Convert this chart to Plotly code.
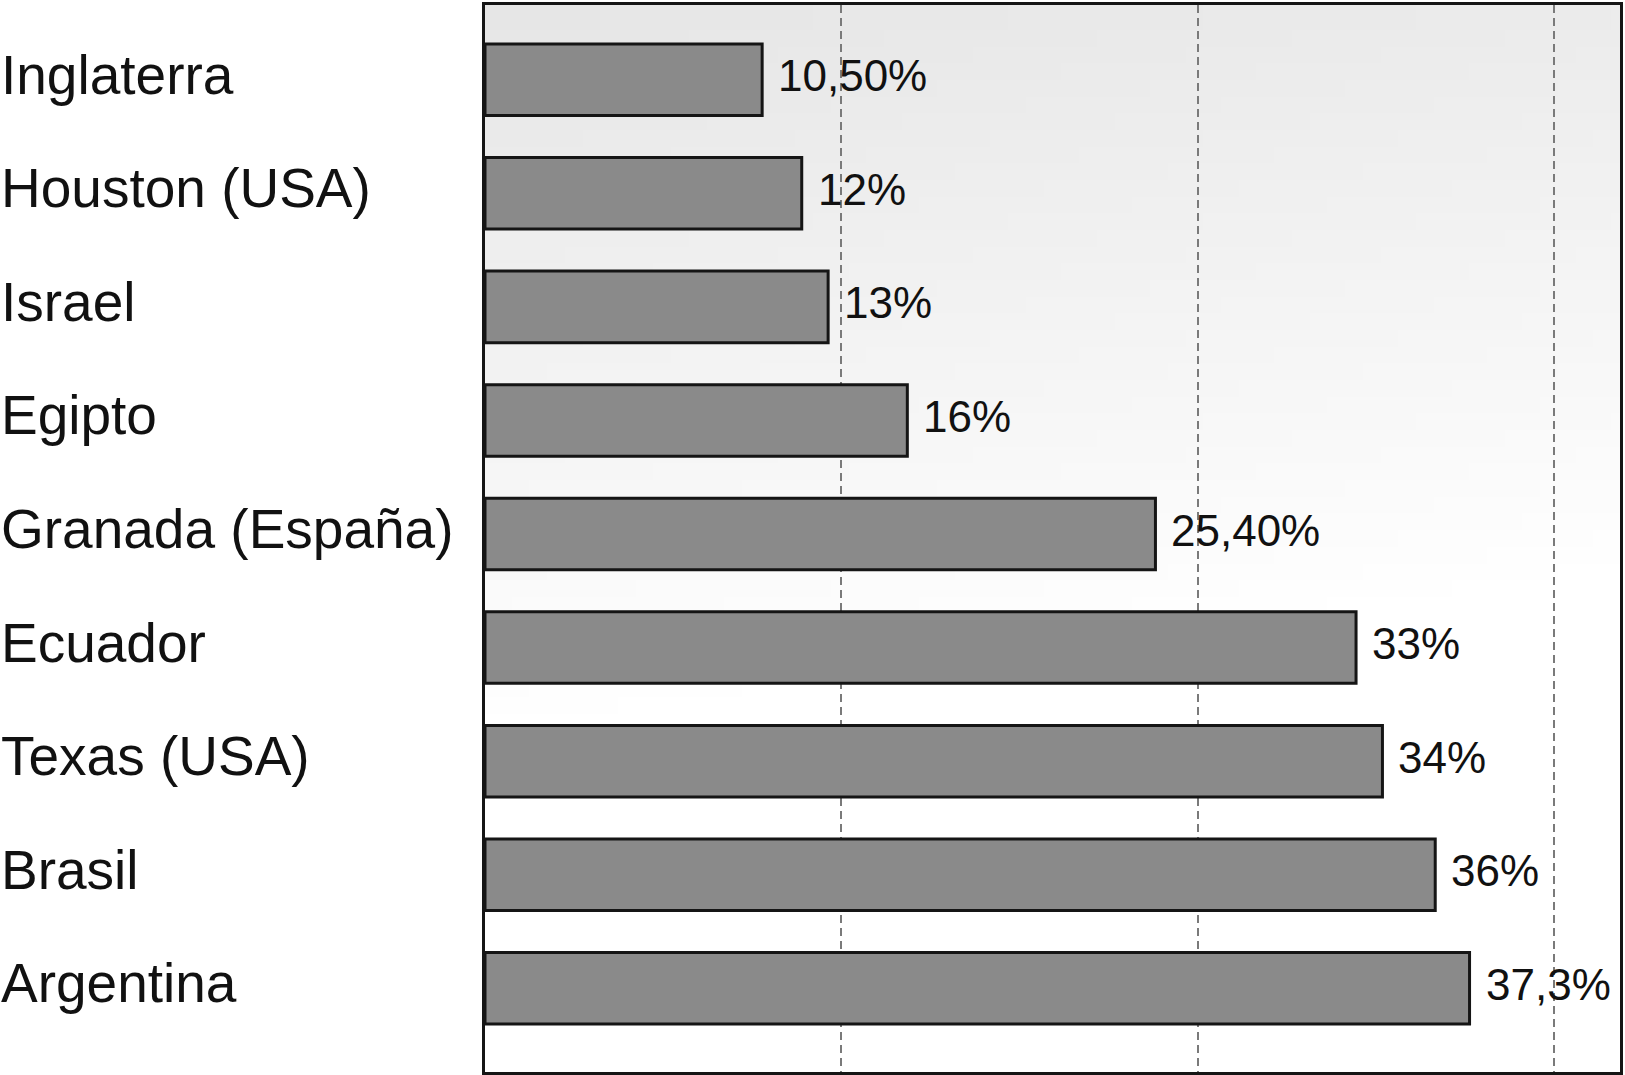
import base64
import struct
import zlib

import plotly.graph_objects as go

# ---- data ----
categories = ["Inglaterra", "Houston (USA)", "Israel", "Egipto", "Granada (España)",
              "Ecuador", "Texas (USA)", "Brasil", "Argentina"]
values = [10.5, 12, 13, 16, 25.4, 33, 34, 36, 37.3]
value_labels = ["10,50%", "12%", "13%", "16%", "25,40%", "33%", "34%", "36%", "37,3%"]


# ---- background gradient image (styling only) ----
def gradient_png(w=64, h=64):
    rows = []
    for j in range(h):
        yf = j / (h - 1)
        row = bytearray([0])
        for i in range(w):
            xf = i / (w - 1)
            t = min(1.0, (yf + 0.15 * xf) / 0.68)
            v = int(round(230 + 25 * t))
            row += bytes([v, v, v])
        rows.append(bytes(row))
    raw = b"".join(rows)

    def chunk(tag, data):
        c = struct.pack(">I", len(data)) + tag + data
        return c + struct.pack(">I", zlib.crc32(tag + data) & 0xFFFFFFFF)

    png = b"\x89PNG\r\n\x1a\n"
    png += chunk(b"IHDR", struct.pack(">IIBBBBB", w, h, 8, 2, 0, 0, 0))
    png += chunk(b"IDAT", zlib.compress(raw, 9))
    png += chunk(b"IEND", b"")
    return "data:image/png;base64," + base64.b64encode(png).decode()


FONT = "Arial, Liberation Sans, Helvetica, sans-serif"
W, H = 1625, 1075
ML, MR, MT, MB = 485, 4, 2, 3
plot_w = W - ML - MR

fig = go.Figure()
fig.add_trace(go.Bar(
    x=values,
    y=categories,
    orientation="h",
    width=0.63,
    marker=dict(color="#8a8a8a", line=dict(color="#151515", width=3)),
    hoverinfo="x+y",
    showlegend=False,
))

annotations = []
for cat, v, lab in zip(categories, values, value_labels):
    annotations.append(dict(
        x=v, y=cat, xref="x", yref="y", text=lab, showarrow=False,
        xanchor="left", yanchor="middle", xshift=14, yshift=4,
        font=dict(family=FONT, size=44, color="#111111"),
    ))
    annotations.append(dict(
        x=-(ML + 1) / plot_w, y=cat, xref="paper", yref="y", text=cat,
        showarrow=False, xanchor="left", yanchor="middle", yshift=5,
        font=dict(family=FONT, size=55, color="#111111"),
    ))

fig.update_layout(
    width=W, height=H,
    margin=dict(l=ML, r=MR, t=MT, b=MB, pad=0),
    paper_bgcolor="white",
    plot_bgcolor="rgba(0,0,0,0)",
    annotations=annotations,
    images=[dict(
        source=gradient_png(), xref="paper", yref="paper", x=0, y=1,
        sizex=1, sizey=1, sizing="stretch", xanchor="left", yanchor="top",
        layer="below",
    )],
    xaxis=dict(
        range=[0, 43], tickvals=[13.5, 27, 40.5], showticklabels=False,
        ticks="", showgrid=True, gridcolor="#7a7a7a", gridwidth=1.5,
        griddash="8px,5px", zeroline=False,
        showline=True, linecolor="#151515", linewidth=3, mirror=True,
    ),
    yaxis=dict(
        type="category", categoryorder="array", categoryarray=categories,
        range=[8.737, -0.658], showticklabels=False, ticks="",
        showgrid=False, zeroline=False,
        showline=True, linecolor="#151515", linewidth=3, mirror=True,
    ),
)

fig.write_html(
    "out.html",
    config={"displayModeBar": False},
    post_script="document.body.style.margin='0px';document.body.style.overflow='hidden';",
)
